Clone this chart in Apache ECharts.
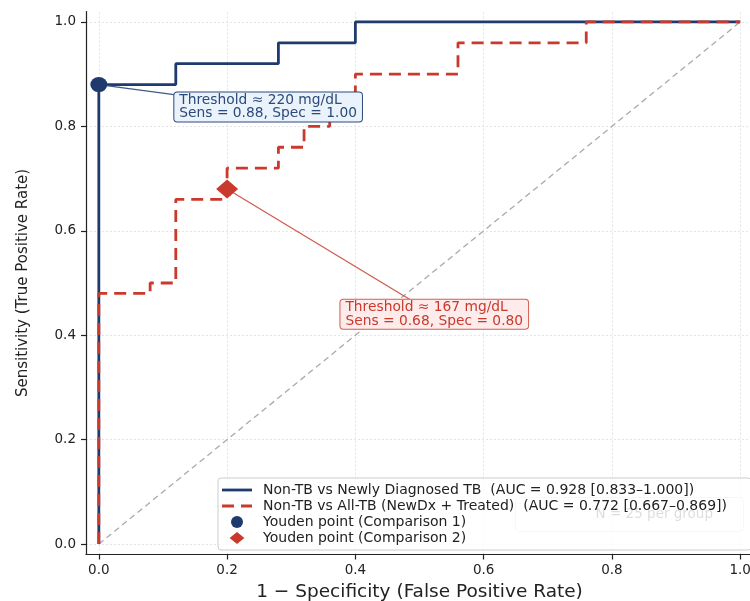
<!DOCTYPE html>
<html>
<head>
<meta charset="utf-8">
<script src="https://cdn.jsdelivr.net/npm/echarts@6/dist/echarts.min.js"></script>
<style>
html,body{margin:0;padding:0;background:#fff;}
#chart{width:750px;height:601px;}
</style>
</head>
<body>
<div id="chart"></div>
<script>
// ---- data ----
const tickValues = [0, 0.2, 0.4, 0.6, 0.8, 1.0];

const fprNewDx = [0, 0, 0.12, 0.12, 0.28, 0.28, 0.40, 0.40, 1.0];
const tprNewDx = [0, 0.88, 0.88, 0.92, 0.92, 0.96, 0.96, 1.0, 1.0];

const fprAllTB = [0, 0, 0.08, 0.08, 0.12, 0.12, 0.20, 0.20, 0.28, 0.28, 0.32, 0.32, 0.36, 0.36, 0.40, 0.40, 0.56, 0.56, 0.76, 0.76, 1.0];
const tprAllTB = [0, 0.48, 0.48, 0.50, 0.50, 0.66, 0.66, 0.72, 0.72, 0.76, 0.76, 0.80, 0.80, 0.84, 0.84, 0.90, 0.90, 0.96, 0.96, 1.0, 1.0];

const chanceX = [0, 1];
const chanceY = [0, 1];

const youden1 = [0.0, 0.88];
const youden2 = [0.20, 0.68];
const annot1Pos = [0.264, 0.837];
const annot2Pos = [0.523, 0.44];
const annot1Lines = ['Threshold \u2248 220 mg/dL', 'Sens = 0.88, Spec = 1.00'];
const annot2Lines = ['Threshold \u2248 167 mg/dL', 'Sens = 0.68, Spec = 0.80'];

const name1 = 'Non-TB vs Newly Diagnosed TB  (AUC = 0.928 [0.833\u20131.000])';
const name2 = 'Non-TB vs All-TB (NewDx + Treated)  (AUC = 0.772 [0.667\u20130.869])';
const name3 = 'Youden point (Comparison 1)';
const name4 = 'Youden point (Comparison 2)';
const noteText = 'N = 25 per group';

// ---- build ----
const FONT = 'DejaVu Sans';
const BLUE = '#1f3b6e';
const RED = '#c9392c';
const ANN_FS = 13.8;
const zip = (a, b) => a.map((v, i) => [v, b[i]]);

const mctx = document.createElement('canvas').getContext('2d');
mctx.font = ANN_FS + 'px "' + FONT + '"';
const textWidth = lines => Math.max.apply(null, lines.map(l => mctx.measureText(l).width));

const gridMarks = [];
tickValues.forEach(v => { gridMarks.push({xAxis: v}); gridMarks.push({yAxis: v}); });

function annLabel(lines, color, bg, border) {
  const w = textWidth(lines) + 10;
  return {
    show: true, position: 'inside', formatter: lines.join('\n'), align: 'left', offset: [-w / 2, 0],
    fontSize: ANN_FS, lineHeight: 13.5, fontFamily: FONT, color: color,
    backgroundColor: bg, borderColor: border, borderWidth: 1, borderRadius: 3, padding: [1, 5, 1, 5]
  };
}

const chart = echarts.init(document.getElementById('chart'), null, {renderer: 'canvas'});

const axisCommon = {
  type: 'value',
  min: -0.02,
  max: 1.02,
  axisLine: {show: true, onZero: false, lineStyle: {color: '#222', width: 1.2}},
  axisTick: {show: true, inside: false, length: 5, customValues: tickValues, lineStyle: {color: '#222', width: 1.2}},
  axisLabel: {show: true, customValues: tickValues, formatter: v => v.toFixed(1), fontSize: 13.5, color: '#222', fontFamily: FONT, margin: 9},
  splitLine: {show: false},
  nameLocation: 'middle'
};

chart.setOption({
  animation: false,
  backgroundColor: '#fff',
  grid: {left: 86, top: 11.5, width: 667, height: 543, containLabel: false, outerBoundsMode: 'none'},
  xAxis: Object.assign({}, axisCommon, {
    name: '1 \u2212 Specificity (False Positive Rate)', nameGap: 27,
    nameTextStyle: {fontSize: 18.5, color: '#222', fontFamily: FONT}
  }),
  yAxis: Object.assign({}, axisCommon, {
    name: 'Sensitivity (True Positive Rate)', nameGap: 55,
    axisLabel: Object.assign({}, axisCommon.axisLabel, {margin: 10}),
    nameTextStyle: {fontSize: 15, color: '#222', fontFamily: FONT}
  }),
  legend: {
    orient: 'vertical',
    left: 218,
    top: 478,
    padding: [5, 24, 5, 4],
    itemGap: 2,
    itemWidth: 30,
    itemHeight: 12,
    backgroundColor: 'rgba(255,255,255,0.8)',
    borderColor: '#cccccc',
    borderWidth: 1,
    borderRadius: 3,
    z: 20,
    textStyle: {fontSize: 14, lineHeight: 14, color: '#222', fontFamily: FONT, padding: [0, 0, 0, 6]},
    data: [
      {name: name1, icon: 'path://M0,0h30v2.8h-30z', itemStyle: {color: BLUE}},
      {name: name2, icon: 'path://M0,0h12v2.8h-12z M19,0h11v2.8h-11z', itemStyle: {color: RED}},
      {name: name3, icon: 'circle', itemStyle: {color: BLUE}},
      {name: name4, icon: 'path://M8,0L16,6.5L8,13L0,6.5Z', itemStyle: {color: RED}}
    ]
  },
  graphic: [
    {type: 'rect', z: 0, left: 515, top: 497, shape: {width: 228, height: 34, r: 4}, style: {fill: '#fff', stroke: '#d8d8d8', lineWidth: 1}},
    {type: 'text', z: 0, right: 37, top: 507, style: {text: noteText, fontSize: 13.5, fill: '#555', fontFamily: FONT}}
  ],
  series: [
    {
      name: 'grid', type: 'line', data: [], silent: true, z: 0,
      markLine: {silent: true, z: 0, symbol: ['none', 'none'], label: {show: false},
        lineStyle: {color: '#e4e4e4', width: 1, type: [2, 2]}, data: gridMarks}
    },
    {
      name: 'chance', type: 'line', data: zip(chanceX, chanceY), symbol: 'none', silent: true, z: 1,
      lineStyle: {color: '#aaaaaa', width: 1.3, type: [6, 4]}
    },
    {
      name: name1, type: 'line', data: zip(fprNewDx, tprNewDx), symbol: 'none', z: 3,
      lineStyle: {color: BLUE, width: 2.8}, itemStyle: {color: BLUE}
    },
    {
      name: name2, type: 'line', data: zip(fprAllTB, tprAllTB), symbol: 'none', z: 4,
      lineStyle: {color: RED, width: 2.8, type: [12, 7]}, itemStyle: {color: RED}
    },
    {
      name: name3, type: 'scatter', data: [youden1], symbol: 'circle', symbolSize: [17, 15], z: 6,
      itemStyle: {color: BLUE, opacity: 1},
      markLine: {silent: true, z: 5, symbol: ['none', 'none'], label: {show: false},
        lineStyle: {color: '#3d5a86', width: 1.2, type: 'solid'},
        data: [[{coord: youden1}, {coord: annot1Pos}]]}
    },
    {
      name: name4, type: 'scatter', data: [youden2], symbol: 'diamond', symbolSize: [22, 19], z: 6,
      itemStyle: {color: RED, opacity: 1},
      markLine: {silent: true, z: 5, symbol: ['none', 'arrow'], symbolSize: 7, label: {show: false},
        lineStyle: {color: '#d0584c', width: 1.2, type: 'solid'},
        data: [[{coord: annot2Pos}, {coord: youden2}]]}
    },
    {
      name: 'annotations', type: 'scatter', data: [], silent: true, z: 10,
      markPoint: {
        silent: true, z: 10,
        symbol: 'circle', symbolSize: 1, itemStyle: {color: 'rgba(0,0,0,0)'},
        data: [
          {coord: annot1Pos, value: 0, label: annLabel(annot1Lines, '#2c4a7a', '#eaf2fb', '#2c4a7a')},
          {coord: annot2Pos, value: 0, label: annLabel(annot2Lines, '#c9392c', '#fdeceb', '#d65c50')}
        ]
      }
    }
  ]
});
</script>
</body>
</html>
